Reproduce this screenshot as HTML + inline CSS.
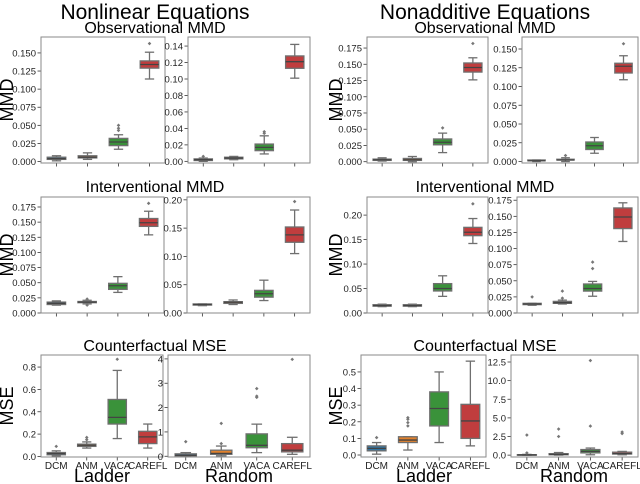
<!DOCTYPE html>
<html><head><meta charset="utf-8"><style>
body{margin:0;background:#fff;}
svg{display:block;font-family:"Liberation Sans","DejaVu Sans",sans-serif;}
</style></head><body>
<svg id="fig" width="640" height="484" viewBox="0 0 640 484" xmlns="http://www.w3.org/2000/svg">
<text x="155" y="19" font-size="21" text-anchor="middle">Nonlinear Equations</text>
<text x="485" y="19" font-size="21" text-anchor="middle">Nonadditive Equations</text>
<text x="155" y="33" font-size="16" text-anchor="middle">Observational MMD</text>
<text x="485" y="33" font-size="16" text-anchor="middle">Observational MMD</text>
<text x="155" y="192" font-size="16" text-anchor="middle">Interventional MMD</text>
<text x="485" y="192" font-size="16" text-anchor="middle">Interventional MMD</text>
<text x="155" y="351" font-size="16" text-anchor="middle">Counterfactual MSE</text>
<text x="485" y="351" font-size="16" text-anchor="middle">Counterfactual MSE</text>
<text transform="translate(13,100) rotate(-90)" font-size="18" text-anchor="middle">MMD</text>
<text transform="translate(13,255) rotate(-90)" font-size="18" text-anchor="middle">MMD</text>
<text transform="translate(13,406) rotate(-90)" font-size="18" text-anchor="middle">MSE</text>
<text transform="translate(342,100) rotate(-90)" font-size="18" text-anchor="middle">MMD</text>
<text transform="translate(342,255) rotate(-90)" font-size="18" text-anchor="middle">MMD</text>
<text transform="translate(342,406) rotate(-90)" font-size="18" text-anchor="middle">MSE</text>
<text x="102" y="482" font-size="18" text-anchor="middle">Ladder</text>
<text x="239" y="482" font-size="18" text-anchor="middle">Random</text>
<text x="424" y="482" font-size="18" text-anchor="middle">Ladder</text>
<text x="574" y="482" font-size="18" text-anchor="middle">Random</text>
</svg>
<script>
const categories = ["DCM","ANM","VACA","CAREFL"];
const colors = ["#3274a1","#e1812c","#3a923a","#c03d3e"];
const panelNames = ["obs-nonlin-ladder","obs-nonlin-random","obs-nonadd-ladder","obs-nonadd-random",
"int-nonlin-ladder","int-nonlin-random","int-nonadd-ladder","int-nonadd-random",
"cf-nonlin-ladder","cf-nonlin-random","cf-nonadd-ladder","cf-nonadd-random"];
const yMax = [0.172,0.151,0.192,0.166, 0.1915,0.205,0.237,0.18, 0.908,4.16,0.602,13.44];
const yMin = [-0.002,-0.002,-0.002,-0.002, 0,0,0,0, -0.005,-0.03,-0.012,-0.25];
const yTicks = [
[0,0.025,0.05,0.075,0.1,0.125,0.15],[0,0.02,0.04,0.06,0.08,0.1,0.12,0.14],
[0,0.025,0.05,0.075,0.1,0.125,0.15,0.175],[0,0.025,0.05,0.075,0.1,0.125,0.15],
[0,0.025,0.05,0.075,0.1,0.125,0.15,0.175],[0,0.05,0.1,0.15,0.2],
[0,0.05,0.1,0.15,0.2],[0,0.025,0.05,0.075,0.1,0.125,0.15,0.175],
[0,0.2,0.4,0.6,0.8],[0,1,2,3,4],[0,0.1,0.2,0.3,0.4,0.5],[0,2.5,5,7.5,10,12.5]];
const tickDecimals = [3,2,3,3, 3,2,2,3, 1,0,1,1];
const medians = [
[.004,.006,.027,.134],[.002,.004,.017,.121],[.003,.003,.030,.145],[.001,.002,.021,.127],
[.016,.018,.045,.149],[.015,.019,.034,.138],[.015,.015,.050,.165],[.014,.016,.038,.149],
[.025,.10,.35,.175],[.04,.12,.45,.25],[.04,.09,.28,.205],[.03,.1,.5,.2]];
const q1s = [
[.003,.005,.022,.129],[.001,.003,.013,.113],[.002,.002,.026,.138],[.001,.002,.016,.118],
[.014,.017,.039,.143],[.014,.017,.028,.125],[.014,.014,.045,.158],[.013,.015,.034,.131],
[.015,.09,.29,.115],[.02,.08,.35,.18],[.025,.075,.175,.10],[.01,.05,.3,.15]];
const q3s = [
[.006,.008,.032,.139],[.003,.005,.021,.128],[.004,.005,.035,.152],[.002,.003,.026,.131],
[.018,.019,.049,.156],[.016,.020,.040,.152],[.017,.017,.060,.175],[.015,.018,.045,.163],
[.035,.11,.51,.225],[.10,.25,.92,.52],[.055,.11,.38,.305],[.06,.2,.75,.4]];
const whiskLo = [
[.001,.003,.017,.114],[0,.002,.009,.101],[.001,0,.014,.126],[0,0,.011,.109],
[.013,.015,.034,.129],[.013,.015,.022,.105],[.013,.013,.034,.142],[.012,.014,.026,.111],
[.005,.075,.16,.075],[0,.02,.15,.08],[.005,.03,.075,.055],[0,0,.05,.05]];
const whiskHi = [
[.008,.012,.037,.151],[.004,.006,.031,.142],[.006,.008,.044,.160],[.002,.005,.032,.141],
[.020,.021,.060,.168],[.016,.023,.058,.182],[.018,.018,.076,.193],[.015,.020,.049,.171],
[.05,.13,.77,.29],[.15,.42,1.32,.78],[.075,.11,.50,.565],[.1,.35,.95,.5]];
const outliers = [
[[],[],[.043,.046,.050],[.163]],[[.006],[],[.034,.036],[]],[[],[],[.052],[.182]],[[],[.008],[],[.157]],
[[],[.013,.023],[],[.181]],[[],[],[],[.197]],[[],[],[],[.223]],[[.025],[.023,.034],[.069,.079],[]],
[[.09],[.15,.17],[.87],[]],[[.6],[.52,1.35],[2.42,2.47,2.78],[3.98]],[[.105],[.175,.195,.215,.225],[],[]],[[.3,2.7],[2.5,3.5],[3.9,12.7],[2.9,3.1]]];
const showXLabels = [false,false,false,false,false,false,false,false,true,true,true,true];
const panelX0 = [41,188,367,522, 41,187,367,517, 41,168,361,511];
const panelX1 = [165,310,488,638, 164,310,488,638, 163,310,486,638];
const panelY0 = [37,37,37,37, 197,197,197,197, 355,355,355,355];
const panelY1 = [163,163,163,163, 313,313,313,313, 457,457,457,457];

const NS="http://www.w3.org/2000/svg";
const svg=document.getElementById('fig');
function mk(tag,attrs,parent){const e=document.createElementNS(NS,tag);for(const k in attrs)e.setAttribute(k,attrs[k]);(parent||svg).appendChild(e);return e;}
const edge="#6f6f6f";
for(let p=0;p<12;p++){
  const x0=panelX0[p],x1=panelX1[p],y0=panelY0[p],y1=panelY1[p];
  const g=mk('g',{});
  
  
  const ys=v=>y1-(v-yMin[p])/(yMax[p]-yMin[p])*(y1-y0);
  const cw=(x1-x0)/4;
  const xs=i=>x0+(i+0.5)*cw;
  yTicks[p].forEach(t=>{
    const y=ys(t);
    const tl=mk('line',{x1:x0-3.5,x2:x0,y1:y,y2:y,stroke:"#333","stroke-width":0.8},g);
    
    
    const tx=mk('text',{x:x0-5,y:y+3.5,"font-size":9.5,"text-anchor":"end",fill:"#222"},g);
    
    
    tx.textContent=t.toFixed(tickDecimals[p]);
  });
  categories.forEach((c,i)=>{
    const x=xs(i);
    const tl=mk('line',{x1:x,x2:x,y1:y1,y2:y1+3.5,stroke:"#333","stroke-width":0.8},g);
    
    
    if(showXLabels[p]){
      const tx=mk('text',{x:x,y:y1+12,"font-size":10,"text-anchor":"middle",fill:"#222"},g);
      
      
      tx.textContent=c;
    }
    const bw=cw*0.6;
    const bg=mk('g',{},g);
    
    
    mk('line',{x1:x,x2:x,y1:ys(whiskLo[p][i]),y2:ys(q1s[p][i]),stroke:edge,"stroke-width":1.3},bg);
    mk('line',{x1:x,x2:x,y1:ys(q3s[p][i]),y2:ys(whiskHi[p][i]),stroke:edge,"stroke-width":1.3},bg);
    mk('line',{x1:x-bw/4,x2:x+bw/4,y1:ys(whiskLo[p][i]),y2:ys(whiskLo[p][i]),stroke:edge,"stroke-width":1.3},bg);
    mk('line',{x1:x-bw/4,x2:x+bw/4,y1:ys(whiskHi[p][i]),y2:ys(whiskHi[p][i]),stroke:edge,"stroke-width":1.3},bg);
    const top=ys(q3s[p][i]),bot=ys(q1s[p][i]);
    mk('rect',{x:x-bw/2,y:top,width:bw,height:Math.max(bot-top,0.5),fill:colors[i],stroke:edge,"stroke-width":1.3},bg);
    mk('line',{x1:x-bw/2,x2:x+bw/2,y1:ys(medians[p][i]),y2:ys(medians[p][i]),stroke:"#444","stroke-width":1.3},bg);
    outliers[p][i].forEach(o=>{
      const d=mk('path',{d:`M${x-1.8},${ys(o)} L${x},${ys(o)-1.8} L${x+1.8},${ys(o)} L${x},${ys(o)+1.8}Z`,fill:"#777"},bg);
      
      
    });
  });
  const fr=mk('rect',{x:x0,y:y0,width:x1-x0,height:y1-y0,fill:"none",stroke:"#8a8a8a","stroke-width":1},g);
  
  
}
</script>
</body></html>
